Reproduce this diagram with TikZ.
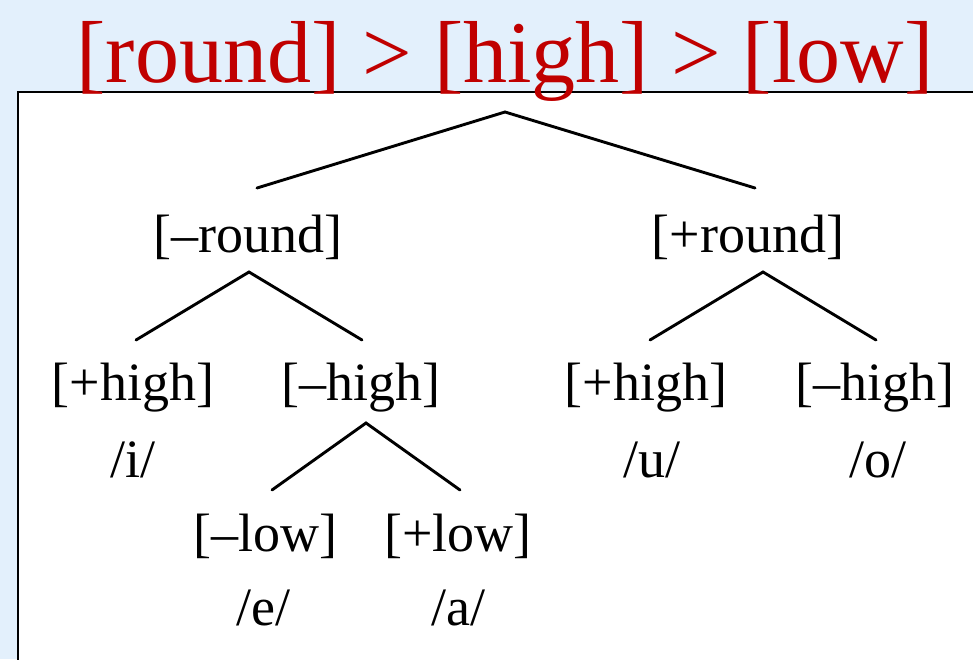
\documentclass[tikz,border=0pt]{standalone}
\usepackage{fontspec}
\setmainfont{Liberation Serif}
\definecolor{bgblue}{HTML}{E3F0FC}
\definecolor{titlered}{HTML}{C00000}
\begin{document}
\begin{tikzpicture}[x=1pt,y=-1pt,
  feat/.style={anchor=base,inner sep=0pt,font=\fontsize{54}{60}\selectfont},
  branch/.style={line width=2.9pt,line cap=round}]
\useasboundingbox (0,0) rectangle (973,659);
\fill[bgblue] (0,0) rectangle (973,659);
\path[clip] (0,0) rectangle (973,659);
\draw[fill=white,line width=1.5pt] (18,92) rectangle (990,680);
\node[anchor=base,inner sep=0pt,text=titlered,font=\fontsize{88}{90}\selectfont] (title) at (505,82) {[round] > [high] > [low]};
% tree coordinates
\coordinate (top) at (505,112);
\coordinate (rl) at (257,188);
\coordinate (rr) at (755,188);
\node[feat] (mround) at (248,252) {[–round]};
\node[feat] (pround) at (748,252) {[+round]};
\coordinate (ltop) at (249,272);
\coordinate (lhl) at (136,340);
\coordinate (lhr) at (362,340);
\coordinate (rtop) at (763,272);
\coordinate (rhl) at (650,340);
\coordinate (rhr) at (876,340);
\node[feat] (phigh1) at (133,400) {[+high]};
\node[feat] (mhigh1) at (361,400) {[–high]};
\node[feat] (phigh2) at (646,400) {[+high]};
\node[feat] (mhigh2) at (875,400) {[–high]};
\node[feat] (i) at (133,477) {/i/};
\node[feat] (u) at (652,477) {/u/};
\node[feat] (o) at (878,477) {/o/};
\coordinate (mtop) at (366,423);
\coordinate (mll) at (272,490);
\coordinate (mlr) at (460,490);
\node[feat] (mlow) at (265,551) {[–low]};
\node[feat] (plow) at (458,551) {[+low]};
\node[feat] (e) at (263,625) {/e/};
\node[feat] (a) at (458,625) {/a/};
\draw[branch] (rl) -- (top) -- (rr);
\draw[branch] (lhl) -- (ltop) -- (lhr);
\draw[branch] (rhl) -- (rtop) -- (rhr);
\draw[branch] (mll) -- (mtop) -- (mlr);
\end{tikzpicture}
\end{document}
